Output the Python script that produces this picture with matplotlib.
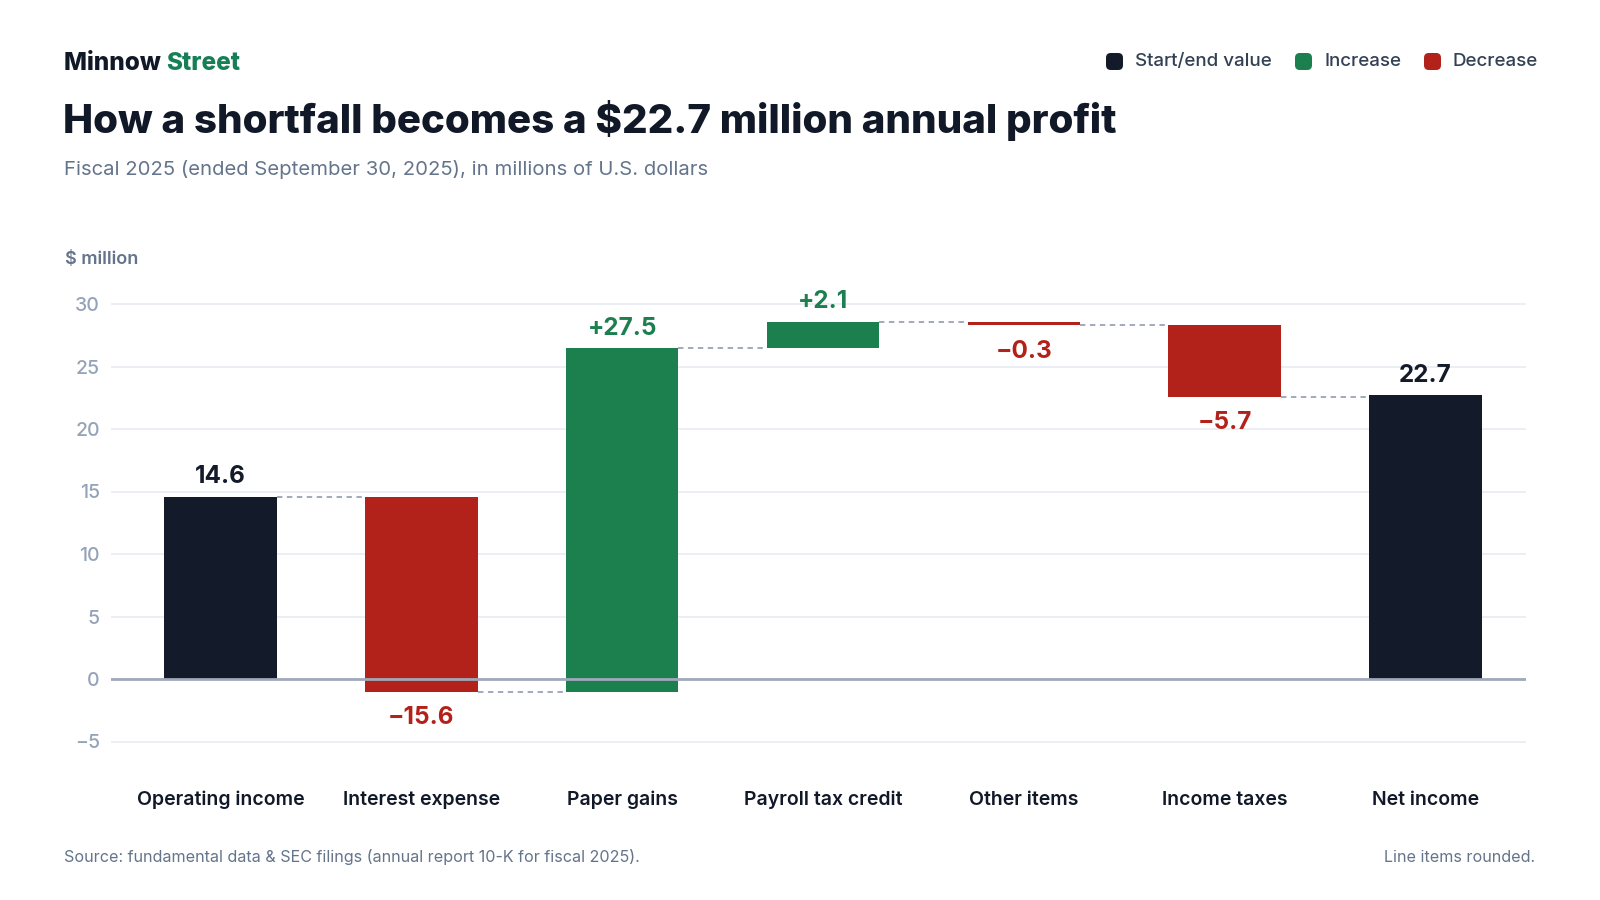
import matplotlib.pyplot as plt
from matplotlib.patches import FancyBboxPatch

plt.rcParams['font.family'] = ['Inter', 'DejaVu Sans']

categories = ['Operating income', 'Interest expense', 'Paper gains', 'Payroll tax credit',
              'Other items', 'Income taxes', 'Net income']
changes = [14.6, -15.6, 27.5, 2.1, -0.3, -5.7, 22.7]
kinds = ['total', 'dec', 'inc', 'inc', 'dec', 'dec', 'total']
value_labels = ['14.6', '\u221215.6', '+27.5', '+2.1', '\u22120.3', '\u22125.7', '22.7']
yticks = [-5, 0, 5, 10, 15, 20, 25, 30]

DARK = '#131a2a'
GREEN = '#1c7f4e'
RED = '#b3221a'
colors = {'total': DARK, 'inc': GREEN, 'dec': RED}

W, H = 1600, 900
fig = plt.figure(figsize=(16, 9), dpi=100)
ax = fig.add_axes([111 / W, 1 - 760 / H, (1526 - 111) / W, (760 - 290) / H])

# waterfall geometry
bottoms, tops, levels = [], [], []
running = 0.0
for ch, k in zip(changes, kinds):
    if k == 'total':
        b, t = 0.0, ch
    else:
        b, t = running, running + ch
    running = t
    bottoms.append(min(b, t))
    tops.append(max(b, t))
    levels.append(running)

width = 0.56
xs = list(range(len(categories)))
for x, b, t, k in zip(xs, bottoms, tops, kinds):
    ax.bar(x, t - b, bottom=b, width=width, color=colors[k], zorder=3, linewidth=0)

# dashed connectors between bars
for i in range(len(xs) - 1):
    ax.plot([xs[i] + width / 2, xs[i + 1] - width / 2], [levels[i], levels[i]],
            color='#9aa3b5', lw=1.3, ls=(0, (3, 2.5)), zorder=2)

# value labels
for x, b, t, k, lab in zip(xs, bottoms, tops, kinds, value_labels):
    if k == 'dec':
        ax.annotate(lab, (x, b), xytext=(0, -10.5), textcoords='offset points',
                    ha='center', va='top', fontsize=17.5, fontweight='bold',
                    color=colors[k])
    else:
        ax.annotate(lab, (x, t), xytext=(0, 9.5), textcoords='offset points',
                    ha='center', va='baseline', fontsize=17.5, fontweight='bold',
                    color=colors[k])

ax.set_xlim(-0.545, 6.5)
ax.set_ylim(-6.48, 31.12)
ax.set_yticks(yticks)
ax.set_yticklabels([('\u2212' + str(-v)) if v < 0 else str(v) for v in yticks])
ax.set_xticks([])
ax.tick_params(axis='y', length=0, pad=8, labelsize=14, labelcolor='#94a3b8')
for s in ax.spines.values():
    s.set_visible(False)
ax.grid(axis='y', color='#e5e9f0', lw=1.1, zorder=0)
ax.axhline(0, color='#a0a8ba', lw=2, zorder=4)
for lab in ax.get_yticklabels():
    lab.set_fontweight('medium')

# category labels under the plot
for x, c in zip(xs, categories):
    fx = ax.transData.transform((x, 0))[0] / W
    fig.text(fx, 1 - 805 / H, c, ha='center', va='baseline', fontsize=14,
             fontweight='semibold', color='#111827')

# header
t1 = fig.text(64 / W, 1 - 70.5 / H, 'Minnow ', fontsize=17.5, fontweight='heavy',
              color='#111827', va='baseline')
fig.canvas.draw()
bb = t1.get_window_extent()
fig.text(bb.x1 / W, 1 - 70.5 / H, 'Street', fontsize=17.5, fontweight='heavy',
         color='#177f57', va='baseline')
fig.text(63 / W, 1 - 133 / H, 'How a shortfall becomes a $22.7 million annual profit',
         fontsize=29, fontweight='heavy', color='#111827', va='baseline')
fig.text(64 / W, 1 - 175 / H, 'Fiscal 2025 (ended September 30, 2025), in millions of U.S. dollars',
         fontsize=14.6, color='#64748b', va='baseline')
fig.text(65 / W, 1 - 264 / H, '$ million', fontsize=13, fontweight='semibold',
         color='#64748b', va='baseline')

# legend
leg = [('Start/end value', DARK, 1106), ('Increase', GREEN, 1295), ('Decrease', RED, 1424)]
for name, col, px in leg:
    sq = FancyBboxPatch((px / W, 1 - 70 / H), 17 / W, 17 / H,
                        boxstyle='round,pad=0,rounding_size=0.003',
                        transform=fig.transFigure, facecolor=col, edgecolor='none',
                        mutation_aspect=W / H)
    fig.patches.append(sq)
    fig.text((px + 29) / W, 1 - 61.5 / H, name, fontsize=13.5, fontweight='medium',
             color='#334155', va='center')

# footer
fig.text(64 / W, 1 - 862 / H,
         'Source: fundamental data & SEC filings (annual report 10-K for fiscal 2025).',
         fontsize=11.6, color='#64748b', va='baseline')
fig.text(1535 / W, 1 - 862 / H, 'Line items rounded.', fontsize=11.6, color='#64748b',
         va='baseline', ha='right')

fig.savefig('out.png', dpi=100)
